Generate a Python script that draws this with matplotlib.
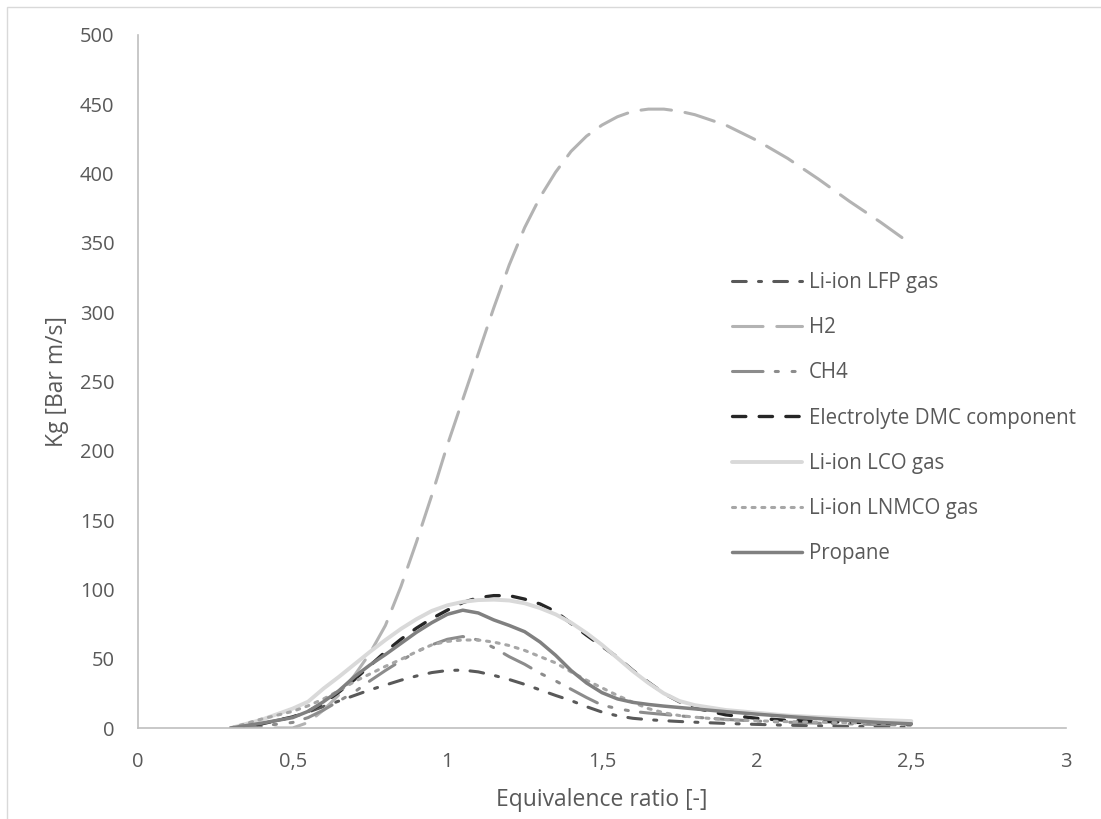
import numpy as np
import matplotlib.pyplot as plt
from matplotlib.patches import Rectangle

plt.rcParams['font.family'] = ['Open Sans', 'DejaVu Sans']

# --- data ---
phi = [0.3, 0.4, 0.5, 0.55, 0.6, 0.65, 0.7, 0.75, 0.8, 0.85, 0.9, 0.95,
       1.0, 1.05, 1.1, 1.15, 1.2, 1.25, 1.3, 1.35, 1.4, 1.45, 1.5, 1.55,
       1.6, 1.65, 1.7, 1.75, 1.8, 1.9, 2.0, 2.1, 2.2, 2.3, 2.4, 2.5]

lfp = [0, 3, 8, 11.5, 15.5, 19.5, 23.5, 27.5, 31, 34.5, 37.5, 40,
       41.5, 41.8, 40.5, 38, 35, 31.5, 27.5, 23.5, 19.8, 15.4, 11.5, 8.8,
       7, 6, 5.3, 4.7, 4.2, 3.3, 2.6, 2, 1.6, 1.2, 0.9, 0.6]
h2 = [0, 0, 0, 4, 13, 24, 38, 54, 74, 102, 134, 168,
      204, 237, 270, 303, 334, 361, 383, 401, 416, 427, 435, 441,
      445, 446.5, 446.5, 445, 442.5, 435, 424, 411, 396, 380, 365, 349]
ch4 = [0, 1.5, 4, 7.5, 13, 19.5, 26, 34, 41.5, 48.5, 55, 60,
       64, 66, 63.5, 58, 51.5, 46, 39.5, 34, 28, 22, 16.5, 14,
       12, 10.8, 9.8, 8.8, 7.8, 6.2, 5, 4.2, 3.5, 3, 2.5, 2]
dmc = [0, 3, 8, 12, 18, 26, 35, 45, 55, 64, 72, 79,
       85, 90.5, 94, 95.5, 95.5, 93, 89.5, 84, 75.5, 67, 59, 51,
       41.5, 33, 25, 19, 14.5, 9.5, 7, 5.5, 4.8, 4.2, 3.6, 3]
lco = [0, 6, 14, 19, 28.5, 37, 46, 55, 63.5, 71.5, 78.5, 84.5,
       88.5, 91, 92.3, 92.6, 92, 90, 86.5, 82, 76, 68.5, 60, 50.5,
       41, 32.5, 25, 19.5, 16.5, 13, 11, 9, 7.8, 6.8, 5.8, 5]
lnmco = [0, 6.5, 12, 16, 21, 27, 33.5, 39, 44.5, 49.5, 55, 60,
         62.5, 63.5, 63.5, 62, 59.5, 56, 51.5, 47, 40.5, 34.5, 29, 23.5,
         18.5, 14, 11, 9, 7.8, 6, 5.2, 4.6, 4.2, 3.8, 3.4, 3]
propane = [0, 3.5, 7.5, 12, 19, 27, 37, 45.5, 53, 61, 69, 76,
           82, 85, 83, 78, 74, 69.5, 62, 52.5, 41.5, 32.5, 25.5, 21,
           18.5, 17, 15.8, 14.8, 13.8, 11.8, 10, 8.3, 6.8, 5.4, 4, 3]

x_ticks = [0, 0.5, 1, 1.5, 2, 2.5, 3]
x_labels = ['0', '0,5', '1', '1,5', '2', '2,5', '3']
y_ticks = list(range(0, 501, 50))

series = [
    ('Li-ion LFP gas', lfp, '#595959', 2.2, (0, (4.5, 4, 1, 4))),
    ('H2', h2, '#b3b3b3', 2.2, (0, (10, 4.5))),
    ('CH4', ch4, '#8c8c8c', 2.2, (0, (10, 4, 1, 4.5, 1, 4))),
    ('Electrolyte DMC component', dmc, '#262626', 2.4, (0, (4, 4))),
    ('Li-ion LCO gas', lco, '#d9d9d9', 2.8, '-'),
    ('Li-ion LNMCO gas', lnmco, '#a6a6a6', 2.2, (0, (1, 2.2))),
    ('Propane', propane, '#808080', 2.5, '-'),
]

fig = plt.figure(figsize=(11.01, 8.19), dpi=100)
ax = fig.add_axes([0.1253, 0.1111, 0.8429, 0.8462])

for name, vals, col, lw, ls in series:
    ax.plot(phi, vals, color=col, lw=lw, linestyle=ls, label=name,
            dash_capstyle='round', solid_capstyle='round',
            solid_joinstyle='round')

ax.set_xlim(0, 3)
ax.set_ylim(0, 500)
ax.set_xticks(x_ticks)
ax.set_xticklabels(x_labels)
ax.set_yticks(y_ticks)

for s in ['top', 'right']:
    ax.spines[s].set_visible(False)
for s in ['left', 'bottom']:
    ax.spines[s].set_color('#bfbfbf')
    ax.spines[s].set_linewidth(1.2)

ax.tick_params(length=0, labelsize=14.5, colors='#595959', pad=17)
ax.set_xlabel('Equivalence ratio [-]', fontsize=16.5, color='#595959', labelpad=12)
ax.set_ylabel('Kg [Bar m/s]', fontsize=16.5, color='#595959', labelpad=8)

leg = ax.legend(loc='upper left', bbox_to_anchor=(0.62, 0.685), frameon=False,
                fontsize=14.8, labelcolor='#595959', handlelength=3.4,
                handletextpad=0.35, labelspacing=1.18)

# outer chart border
fig.patches.append(Rectangle((7 / 1101, -0.1), 1.2, 1 - 7 / 819 + 0.1,
                             transform=fig.transFigure, fill=False,
                             edgecolor='#d9d9d9', lw=1))

fig.savefig('out.png', dpi=100)
